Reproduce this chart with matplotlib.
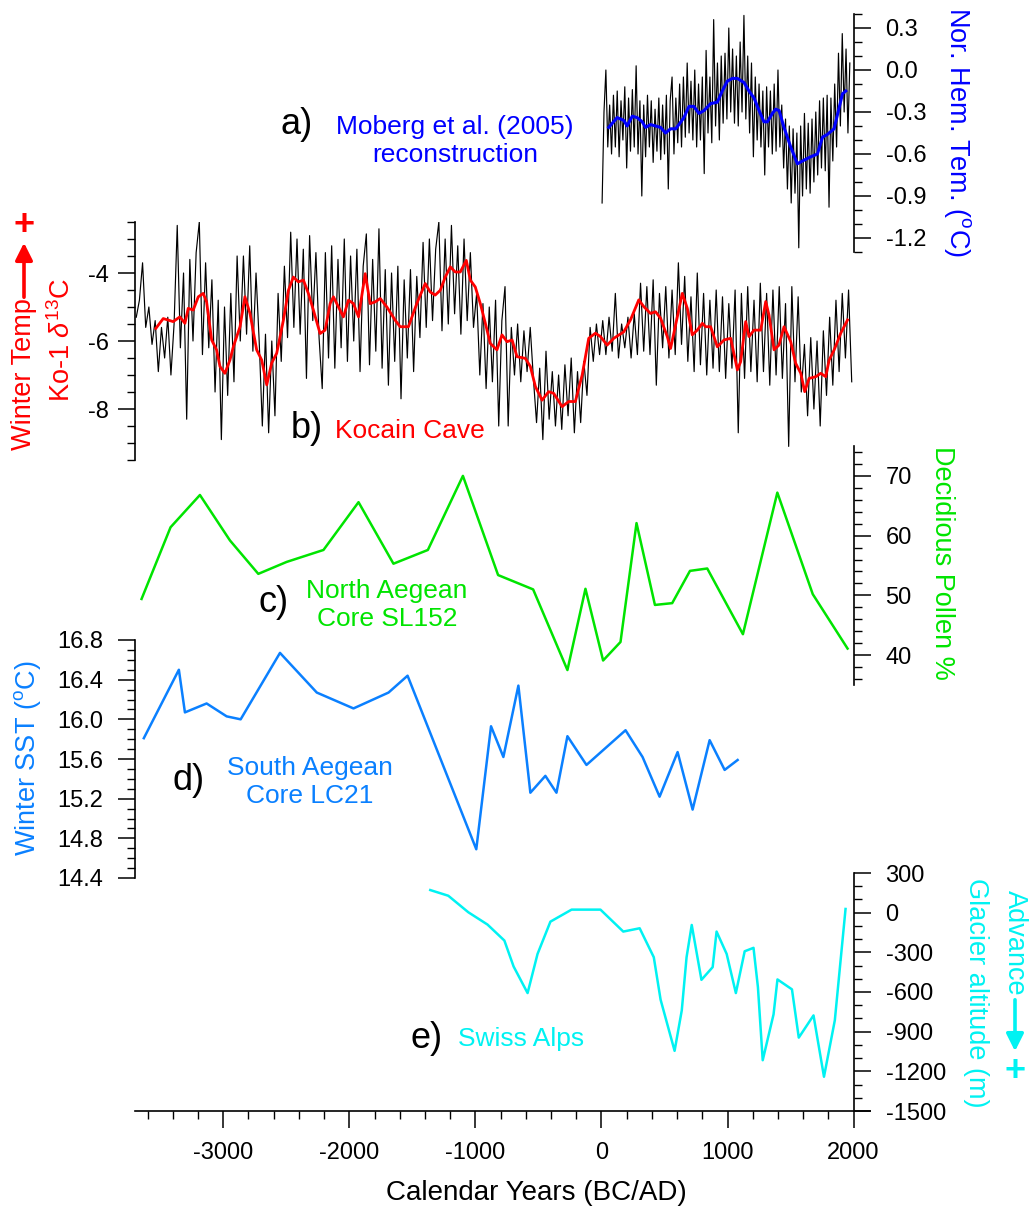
import numpy as np
import matplotlib
matplotlib.use('Agg')
import matplotlib.pyplot as plt
from matplotlib.ticker import MultipleLocator, FormatStrFormatter

plt.rcParams['font.family'] = ['Liberation Sans', 'DejaVu Sans']
plt.rcParams['mathtext.fontset'] = 'custom'
plt.rcParams['mathtext.rm'] = 'Liberation Sans'
plt.rcParams['mathtext.it'] = 'Liberation Sans:italic'
plt.rcParams['axes.unicode_minus'] = False

# a) Moberg et al. (2005) NH temperature, annual band and smoothed curve
moberg_raw = [-0.95, -0.30, 0.00, -0.55, -0.25, -0.60, -0.18, -0.55, -0.15, -0.62,
              -0.22, -0.50, -0.12, -0.70, -0.20, -0.58, -0.14, -0.55, 0.03, -0.60,
              -0.22, -0.90, -0.25, -0.62, -0.18, -0.55, -0.22, -0.66, -0.28, -0.58,
              -0.20, -0.64, -0.25, -0.60, -0.18, -0.85, -0.22, -0.05, -0.60, -0.20,
              -0.52, -0.10, -0.55, -0.05, -0.48, 0.05, -0.45, -0.08, -0.50, 0.00,
              -0.55, -0.10, -0.50, -0.05, -0.74, 0.14, -0.45, -0.05, -0.52, 0.36,
              -0.40, 0.05, -0.50, 0.10, -0.38, 0.12, -0.35, 0.30, -0.30, 0.15,
              -0.38, 0.10, -0.40, 0.20, -0.30, 0.39, -0.35, 0.10, -0.45, 0.05,
              -0.62, -0.05, -0.50, -0.10, -0.55, -0.15, -0.75, -0.12, -0.55, -0.15,
              -0.60, -0.10, -0.58, 0.00, -0.55, -0.25, -0.70, -0.35, -0.85, -0.40,
              -0.95, -0.42, -0.88, -0.45, -1.27, -0.40, -0.90, -0.31, -0.85, -0.38,
              -0.88, -0.35, -0.80, -0.30, -0.75, -0.22, -0.70, -0.20, -0.72, -0.18,
              -0.98, -0.20, -0.65, -0.10, -0.55, 0.12, -0.40, 0.26, -0.30, 0.15,
              -0.45, 0.05]
moberg_raw_yr = np.arange(5, 5 + 15 * len(moberg_raw), 15)
moberg_smooth_yr = [58, 124, 177, 204, 244, 283, 323, 350, 389, 429, 469, 508, 548, 588,
                    614, 654, 694, 733, 773, 813, 866, 919, 958, 998, 1038, 1078, 1131,
                    1170, 1210, 1250, 1289, 1316, 1356, 1382, 1409, 1448, 1501, 1554,
                    1594, 1660, 1713, 1753, 1792, 1845, 1885, 1912, 1938]
moberg_smooth = [-0.41, -0.34, -0.36, -0.40, -0.33, -0.34, -0.37, -0.41, -0.39, -0.40,
                 -0.41, -0.45, -0.42, -0.42, -0.39, -0.34, -0.26, -0.26, -0.31, -0.29,
                 -0.24, -0.23, -0.15, -0.08, -0.06, -0.06, -0.09, -0.15, -0.20, -0.29,
                 -0.37, -0.37, -0.31, -0.28, -0.29, -0.41, -0.55, -0.67, -0.65, -0.62,
                 -0.60, -0.48, -0.46, -0.42, -0.27, -0.17, -0.15]

# b) Kocain Cave Ko-1 d13C
kocain_raw = [-5.3, -4.8, -3.7, -5.6, -5.0, -6.1, -5.4,
              -6.9, -5.6, -6.5, -5.3, -7.0, -5.5, -2.6,
              -6.2, -4.0, -8.3, -3.6, -6.0, -3.4, -2.5, -6.4, -3.7, -6.2,
              -4.2, -7.5, -4.8, -8.9, -5.0, -7.6, -4.6, -7.2, -3.5, -6.0,
              -3.5, -5.8, -3.2, -6.3, -4.0, -6.0,
              -8.5, -5.8, -8.7, -6.0, -8.2,
              -4.6, -6.6, -3.8, -5.9,
              -2.8, -5.6, -3.0, -5.8, -3.3, -7.1, -2.9, -5.4, -3.4, -5.9,
              -7.4, -3.4, -6.5, -3.2, -6.8, -3.6, -6.2, -3.0, -6.6, -3.5, -6.0, -3.3, -6.9, -3.8, -2.85,
              -6.7, -3.6, -6.3, -2.7, -6.8, -3.9, -7.3, -4.0, -6.6, -3.8, -7.7, -4.2, -6.5, -3.9, -6.9, -4.1,
              -5.9, -3.1, -5.6, -3.0, -5.4, -3.3, -2.5, -5.7, -3.0, -5.5, -2.6, -5.2, -3.2, -5.8, -3.0,
              -5.4, -3.4, -5.6,
              -4.6, -7.0, -4.9, -7.4, -5.0, -7.2, -4.8, -8.5,
              -5.4, -4.4, -8.5, -5.6, -7.0, -5.5, -7.2, -5.7, -6.9, -5.6, -7.1,
              -8.4, -6.8, -8.9, -6.3, -8.3, -6.9, -8.5, -7.0, -8.6, -6.7, -8.2, -6.5, -8.7, -6.9, -8.4,
              -6.6, -7.6, -5.6, -6.6, -5.5, -6.4,
              -5.4, -6.4, -5.3, -6.3, -4.6, -6.5, -5.5, -6.2, -5.3, -6.5, -5.2, -6.4, -4.3,
              -6.3, -4.4, -6.4, -4.2, -7.3, -4.6, -6.2, -4.4, -6.5, -4.5, -6.4, -3.7, -6.1, -4.1, -6.6,
              -4.7, -6.9, -4.0, -6.7, -4.6, -7.0, -4.8, -6.8, -4.5, -6.9, -4.7, -7.1, -4.9, -6.8,
              -4.5, -8.7, -4.6, -7.1, -4.4, -6.9, -4.8, -7.2, -4.3, -6.9, -4.6, -7.3, -4.5, -7.0,
              -4.4, -7.1, -4.9, -9.1, -4.4, -7.2, -4.7, -7.5,
              -6.1, -8.2, -5.9, -8.0, -6.0, -8.5, -5.7, -7.6, -5.3, -7.3, -4.8, -6.9, -4.6, -6.5,
              -4.5, -7.2]
kocain_raw_yr = np.arange(-3690, -3690 + 25 * len(kocain_raw), 25)
kocain_smooth_yr = [-3535, -3476, -3397, -3344, -3304, -3278, -3238, -3198, -3159, -3132,
                    -3092, -3053, -3026, -2987, -2947, -2920, -2867, -2828, -2788, -2735,
                    -2695, -2655, -2616, -2576, -2523, -2483, -2444, -2404, -2364, -2325,
                    -2285, -2232, -2192, -2152, -2126, -2086, -2047, -2007, -1967, -1927,
                    -1874, -1835, -1795, -1755, -1702, -1636, -1597, -1531, -1465, -1398,
                    -1358, -1319, -1279, -1239, -1199, -1160, -1120, -1072, -1040, -1001,
                    -961, -921, -882, -829, -789, -749, -709, -670, -604, -564, -524, -471,
                    -419, -379, -312, -260, -207, -153, -101, -48, -8, 45, 98, 177, 230, 296,
                    336, 389, 429, 469, 522, 548, 588, 641, 681, 720, 760, 800, 826, 866,
                    919, 972, 1025, 1078, 1104, 1144, 1170, 1210, 1263, 1303, 1329, 1369,
                    1408, 1448, 1501, 1541, 1581, 1612, 1647, 1700, 1739, 1779, 1806, 1846,
                    1898, 1952]
kocain_smooth = [-5.63, -5.34, -5.43, -5.29, -5.48, -5.04, -5.09, -4.70, -4.60, -4.85,
                 -5.97, -6.26, -6.75, -6.95, -6.56, -6.17, -5.58, -4.70, -5.19, -6.26,
                 -6.56, -7.29, -6.65, -6.36, -5.39, -4.51, -4.12, -4.26, -4.21, -4.60,
                 -5.09, -5.78, -5.68, -4.90, -4.70, -5.00, -5.29, -4.80, -4.90, -5.29,
                 -4.02, -4.90, -4.85, -4.75, -5.00, -5.39, -5.58, -5.58, -4.90, -4.31,
                 -4.56, -4.65, -4.51, -4.12, -3.82, -3.97, -3.97, -3.63, -4.21, -4.41,
                 -4.90, -5.48, -6.07, -6.26, -5.82, -6.02, -5.97, -6.46, -6.51, -6.75,
                 -7.34, -7.74, -7.49, -7.54, -7.93, -7.78, -7.78, -7.00, -5.92, -5.77,
                 -5.87, -6.12, -5.92, -5.73, -5.38, -4.79, -4.99, -5.19, -5.14, -5.33,
                 -5.87, -6.22, -5.53, -4.60, -5.04, -5.82, -5.68, -5.48, -5.58, -5.58,
                 -6.17, -5.97, -5.92, -6.85, -6.61, -5.43, -5.87, -5.68, -5.68, -4.84,
                 -5.24, -6.26, -6.12, -5.58, -6.02, -6.66, -6.95, -7.49, -7.10, -7.05,
                 -6.95, -7.05, -6.56, -6.26, -5.77, -5.38]

# c) North Aegean core SL152 deciduous pollen
pollen_yr = [-3648, -3418, -3185, -2947, -2722, -2497, -2205, -1927, -1650, -1377,
             -1099, -820, -542, -270, -127, 13, 151, 278, 424, 561, 702, 839, 1122,
             1395, 1676, 1952]
pollen = [49.4, 61.4, 66.8, 59.2, 53.6, 55.6, 57.6, 65.6, 55.3, 57.6, 70.0, 53.4,
          51.0, 37.5, 51.1, 39.1, 42.2, 62.1, 48.4, 48.7, 54.1, 54.5, 43.5, 67.2,
          50.2, 41.1]

# d) South Aegean core LC21 winter SST
sst_yr = [-3630, -3352, -3304, -3132, -2973, -2862, -2550, -2258, -1967, -1689,
          -1538, -993, -876, -778, -659, -564, -445, -357, -270, -119, 191, 326,
          461, 604, 723, 858, 977, 1080]
sst = [15.81, 16.50, 16.07, 16.16, 16.03, 16.00, 16.67, 16.27, 16.11, 16.27, 16.44,
       14.69, 15.93, 15.62, 16.34, 15.26, 15.43, 15.26, 15.83, 15.54, 15.89, 15.62,
       15.22, 15.67, 15.09, 15.79, 15.49, 15.59]

# e) Swiss Alps glacier altitude
glacier_yr = [-1358, -1215, -1056, -904, -770, -697, -586, -507, -405, -237, -8,
              173, 303, 415, 469, 580, 637, 675, 716, 793, 882, 913, 993, 1066, 1136,
              1206, 1241, 1279, 1365, 1396, 1511, 1565, 1682, 1765, 1851, 1936]
glacier = [171, 128, 3, -90, -211, -407, -608, -312, -68, 23, 23, -143, -118, -337,
           -658, -1045, -739, -337, -93, -508, -412, -143, -312, -608, -292, -266,
           -563, -1116, -769, -505, -580, -945, -777, -1241, -814, 28]

BLUE = '#0000ff'
RED = '#ff0000'
GREEN = '#00e400'
SKY = '#0a80ff'
CYAN = '#00f2f2'

W, H = 1029, 1211
fig = plt.figure(figsize=(W / 100, H / 100), dpi=100)


def panel(top, bottom, side, ylim, major, minor, fmt, pad):
    ax = fig.add_axes([135 / W, 1 - bottom / H, 735 / W, (bottom - top) / H])
    ax.patch.set_visible(False)
    ax.set_xlim(-3700, 2130)
    ax.set_ylim(*ylim)
    for s in ax.spines.values():
        s.set_visible(False)
    sp = ax.spines[side]
    sp.set_visible(True)
    sp.set_linewidth(1.2)
    if side == 'right':
        sp.set_position(('data', 2000))
        ax.yaxis.tick_right()
    else:
        ax.yaxis.tick_left()
    ax.tick_params(axis='x', which='both', bottom=False, top=False,
                   labelbottom=False)
    ax.yaxis.set_major_locator(MultipleLocator(major))
    ax.yaxis.set_minor_locator(MultipleLocator(minor))
    ax.yaxis.set_major_formatter(FormatStrFormatter(fmt))
    ax.tick_params(axis='y', which='major', length=12, width=1.1,
                   labelsize=17, pad=pad, direction='out')
    ax.tick_params(axis='y', which='minor', length=6, width=1.0, direction='out')
    return ax


ax_a = panel(14, 252, 'right', (-1.3, 0.4), 0.3, 0.1, '%.1f', 11)
ax_a.plot(moberg_raw_yr, moberg_raw, color='black', lw=0.85)
ax_a.plot(moberg_smooth_yr, moberg_smooth, color=BLUE, lw=2.2)

ax_b = panel(222, 460, 'left', (-9.5, -2.5), 2, 0.5, '%d', 7)
ax_b.plot(kocain_raw_yr, kocain_raw, color='black', lw=0.85)
ax_b.plot(kocain_smooth_yr, kocain_smooth, color=RED, lw=2.0)

ax_c = panel(446, 685, 'right', (35, 75), 10, 2, '%d', 11)
ax_c.plot(pollen_yr, pollen, color=GREEN, lw=1.8)

ax_d = panel(640, 878, 'left', (14.4, 16.8), 0.4, 0.1, '%.1f', 11)
ax_d.plot(sst_yr, sst, color=SKY, lw=1.8)

ax_e = panel(873, 1111, 'right', (-1500, 300), 300, 100, '%d', 11)
ax_e.plot(glacier_yr, glacier, color=CYAN, lw=1.8)
ax_e.spines['bottom'].set_visible(True)
ax_e.spines['bottom'].set_linewidth(1.2)
ax_e.tick_params(axis='x', which='both', bottom=True, labelbottom=True)
ax_e.xaxis.set_major_locator(MultipleLocator(1000))
ax_e.xaxis.set_minor_locator(MultipleLocator(200))
ax_e.xaxis.set_major_formatter(FormatStrFormatter('%d'))
ax_e.tick_params(axis='x', which='major', length=12, width=1.1,
                 labelsize=17, pad=10, direction='out')
ax_e.tick_params(axis='x', which='minor', length=6, width=1.0, direction='out')


def ftext(x, y, s, **kw):
    fig.text(x / W, 1 - y / H, s, **kw)


def farrow(x, y0, y1, color):
    fig.add_artist(matplotlib.patches.FancyArrowPatch(
        (x / W, 1 - y0 / H), (x / W, 1 - y1 / H), transform=fig.transFigure,
        arrowstyle='-|>', mutation_scale=26, color=color, lw=2.6))


ftext(536, 1193, 'Calendar Years (BC/AD)', fontsize=20, ha='center', va='center')

# axis titles
ftext(957, 132, r'Nor. Hem. Tem. ($^{\rm o}$C)', color=BLUE, fontsize=19.5,
      rotation=270, ha='center', va='center')
ftext(62, 340, r'Ko-1 $\delta^{13}$C', color=RED, fontsize=19.5,
      rotation=90, ha='center', va='center')
ftext(24, 374, 'Winter Temp', color=RED, fontsize=19.5,
      rotation=90, ha='center', va='center')
farrow(24, 300, 240, RED)
ftext(24, 226, '+', color=RED, fontsize=26, fontweight='bold',
      ha='center', va='center')
ftext(942, 563, 'Decidious Pollen %', color=GREEN, fontsize=19.5,
      rotation=270, ha='center', va='center')
ftext(28, 758, r'Winter SST ($^{\rm o}$C)', color=SKY, fontsize=19.5,
      rotation=90, ha='center', va='center')
ftext(976, 993, 'Glacier altitude (m)', color=CYAN, fontsize=19.5,
      rotation=270, ha='center', va='center')
ftext(1015, 943, 'Advance', color=CYAN, fontsize=19.5,
      rotation=270, ha='center', va='center')
farrow(1015, 997, 1054, CYAN)
ftext(1015, 1071, '+', color=CYAN, fontsize=26, fontweight='bold',
      ha='center', va='center')

# panel captions
ftext(281, 124, 'a)', fontsize=26, ha='left', va='center')
ftext(455, 141, 'Moberg et al. (2005)\nreconstruction', color=BLUE, fontsize=19,
      ha='center', va='center', linespacing=1.2)
ftext(291, 429, 'b)', fontsize=26, ha='left', va='center')
ftext(335, 431, 'Kocain Cave', color=RED, fontsize=19, ha='left', va='center')
ftext(259, 603, 'c)', fontsize=26, ha='left', va='center')
ftext(387, 605, 'North Aegean\nCore SL152', color=GREEN, fontsize=19,
      ha='center', va='center', linespacing=1.2)
ftext(172, 781, 'd)', fontsize=26, ha='left', va='center')
ftext(310, 782, 'South Aegean\nCore LC21', color=SKY, fontsize=19,
      ha='center', va='center', linespacing=1.2)
ftext(411, 1039, 'e)', fontsize=26, ha='left', va='center')
ftext(458, 1039, 'Swiss Alps', color=CYAN, fontsize=19, ha='left', va='center')

fig.savefig('out.png', dpi=100)
